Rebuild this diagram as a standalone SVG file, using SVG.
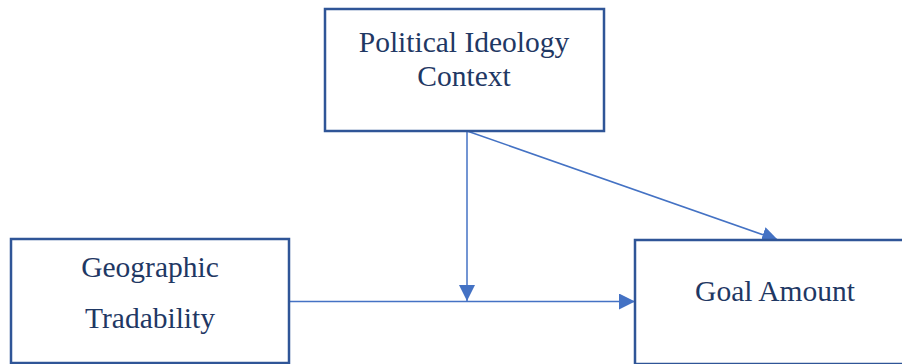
<svg xmlns="http://www.w3.org/2000/svg" width="902" height="364" viewBox="0 0 902 364">
<style>
.box{fill:#fff;stroke:#2F5597;stroke-width:2.5}
.conn{stroke:#4472C4;stroke-width:1.5;fill:none}
</style>
<defs>
<marker id="arrL" viewBox="0 0 10 10" refX="10" refY="5" markerWidth="16" markerHeight="16" markerUnits="userSpaceOnUse" orient="auto">
<path d="M0,0 L10,5 L0,10 z" fill="#4472C4"/>
</marker>
</defs>
<rect width="902" height="364" fill="#fff"/>
<g id="connectors">
<line class="conn" x1="467" y1="131" x2="467" y2="301" marker-end="url(#arrL)"/>
<line class="conn" x1="289" y1="301.5" x2="635" y2="301.5" marker-end="url(#arrL)"/>
<line class="conn" x1="467" y1="131" x2="778" y2="240" marker-end="url(#arrL)"/>
</g>
<g font-family="Liberation Serif" font-size="29.5" fill="#1F3864" text-anchor="middle">
<g id="political">
<rect class="box" x="325" y="9" width="279" height="122"/>
<text x="464" y="52">Political Ideology</text>
<text x="464" y="86">Context</text>
</g>
<g id="geographic">
<rect class="box" x="11" y="239" width="278" height="124"/>
<text x="150" y="277">Geographic</text>
<text x="150" y="328">Tradability</text>
</g>
<g id="goal">
<rect class="box" x="635" y="240" width="270" height="124"/>
<text x="775" y="301">Goal Amount</text>
</g>
</g>
</svg>
